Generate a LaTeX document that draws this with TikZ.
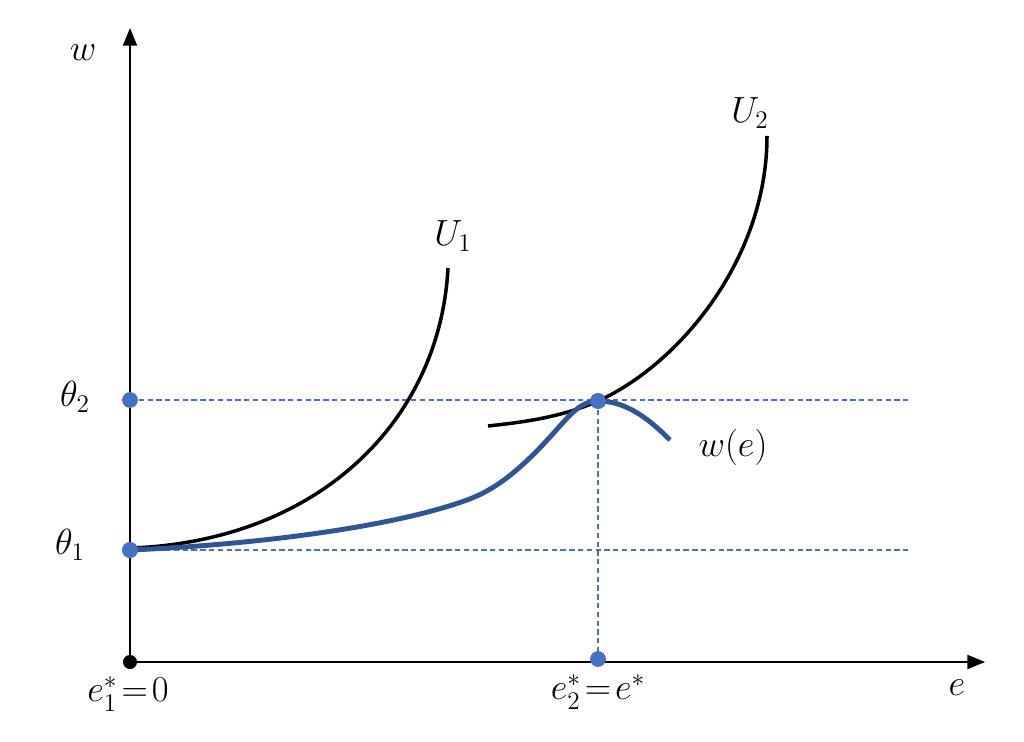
\documentclass[tikz,border=0pt]{standalone}
\usepackage{tikz}
\usetikzlibrary{arrows.meta}
\usetikzlibrary{positioning}
\definecolor{wblue}{RGB}{47,85,151}
\definecolor{lblue}{RGB}{68,114,196}
\tikzset{
    axis/.style = {line width=0.8pt,draw=black,-{Triangle[length=10pt,width=8pt]}},
    dotb/.style = {circle, fill=lblue, inner sep=0pt, minimum size=9pt},
    dotk/.style = {circle, fill=black, inner sep=0pt, minimum size=8pt},
    lbl/.style = {font=\fontsize{21}{25}\selectfont},
    lbls/.style = {font=\fontsize{20}{24}\selectfont},
    guide/.style = {line width=0.6pt,lblue,dash pattern=on 3pt off 2pt},
    curvek/.style = {line width=2pt,black},
    curveb/.style = {line width=2.8pt,wblue}
}

\begin{document}
\begin{tikzpicture}[x=0.02cm,y=-0.02cm]
\useasboundingbox (0,0) rectangle (1024,742);
\coordinate (o) at (130,662);
\coordinate (ytop) at (130,28);
\coordinate (xtip) at (985,662);
\coordinate (g2) at (910,400);
\coordinate (g1) at (910,550);
%
\draw[axis] (o) -- (ytop);
\draw[axis] (o) -- (xtip);
%
\node[dotb] at (130,400) (t2) {};
\node[dotb] at (130,550) (t1) {};
\node[dotb] at (598,659) (e2) {};
\node[dotb] at (598,401) (pk) {};
\node[dotk] at (130,662) (o1) {};
%
\draw[guide] (t2.center) -- (g2);
\draw[guide] (t1.center) -- (g1);
\draw[guide] (pk.center) -- (e2.center);
% indifference curves
\coordinate (u1a) at (133,548);
\coordinate (u1b) at (448,268);
\coordinate (u2a) at (488,426);
\coordinate (u2b) at (767,136);
\draw[curvek] (u1a) .. controls (320,540) and (440,420) .. (u1b);
\draw[curvek] (u2a) .. controls (525,422) and (562,417) .. (pk.center)
    .. controls (678,365) and (767,260) .. (u2b);
% wage schedule
\coordinate (wa) at (130,550);
\coordinate (wm) at (467,500);
\coordinate (wi) at (550,437);
\coordinate (wb) at (670,440);
\draw[curveb] (wa) .. controls (250,545) and (390,528) .. (wm)
    .. controls (495,490) and (520,470) .. (wi)
    .. controls (570,415) and (580,401) .. (pk.center)
    .. controls (627,401) and (650,420) .. (wb);
\node[dotb] at (130,550) {};
\node[dotb] at (598,401) {};
%
\node[lbl] at (83,53) (lw) {$w$};
\node[lbl] at (957,688) (le) {$e$};
\node[lbl] at (75,397) (lt2) {$\theta_2$};
\node[lbl] at (70,545) (lt1) {$\theta_1$};
\node[lbls] at (128,694) (le1) {$e_1^*\!=\!0$};
\node[lbls] at (598,692) (le2) {$e_2^*\!=\!e^*$};
\node[lbl] at (453,236) (lu1) {$U_1$};
\node[lbl] at (750,113) (lu2) {$U_2$};
\node[lbl] at (733,447) (lwe) {$w(e)$};
\end{tikzpicture}
\end{document}
